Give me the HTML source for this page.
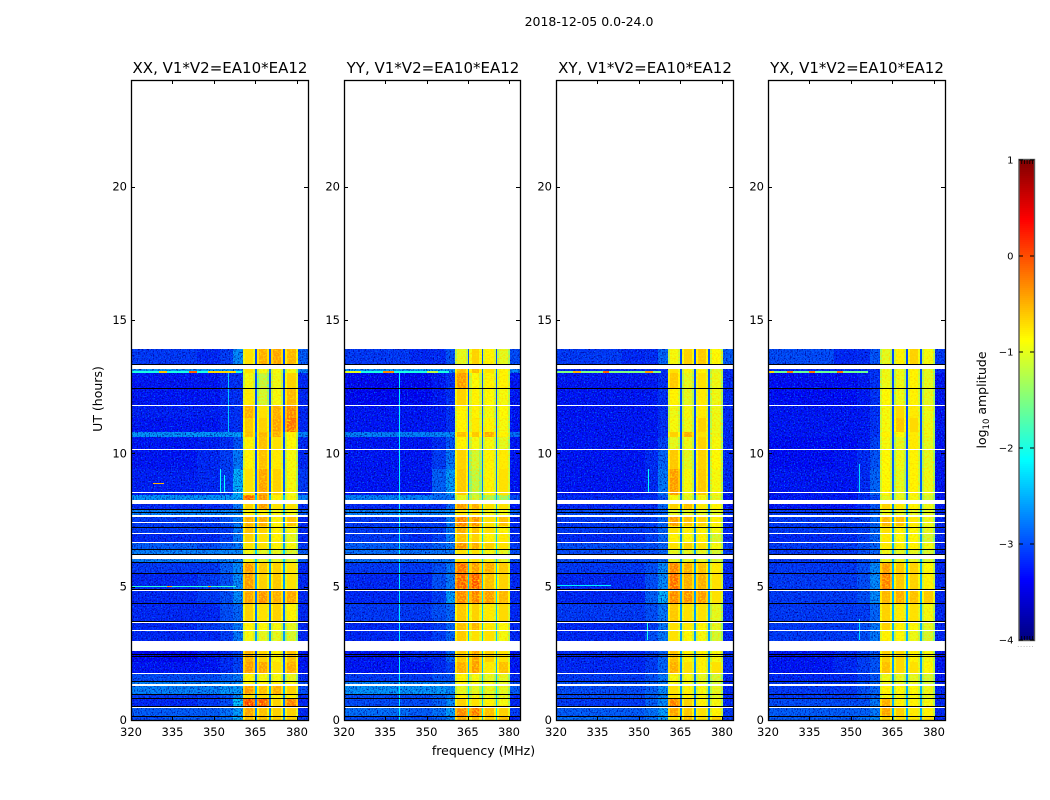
<!DOCTYPE html>
<html lang="en">
<head>
<meta charset="utf-8">
<title>2018-12-05 0.0-24.0</title>
<style>
html,body{margin:0;padding:0;background:#fff;width:1050px;height:800px;overflow:hidden}
svg{display:block}
text{font-family:"DejaVu Sans","Liberation Sans",sans-serif;fill:#000}
</style>
</head>
<body>
<svg id="figure" width="1050" height="800" viewBox="0 0 1050 800" xmlns="http://www.w3.org/2000/svg">
<defs>
<filter id="speckle-dark" x="0" y="0" width="1" height="1" color-interpolation-filters="sRGB">
<feTurbulence type="fractalNoise" baseFrequency="0.75 0.65" numOctaves="1" seed="4"/>
<feColorMatrix type="matrix" values="0 0 0 0 0  0 0 0 0 0  0 0 0 0 0.55  3.2 0 0 0 -1.5"/>
</filter>
<filter id="speckle-light" x="0" y="0" width="1" height="1" color-interpolation-filters="sRGB">
<feTurbulence type="fractalNoise" baseFrequency="0.7 0.8" numOctaves="1" seed="11"/>
<feColorMatrix type="matrix" values="0 0 0 0 0  0 0 0 0 0.5  0 0 0 0 1  0 3.2 0 0 -1.7"/>
</filter>
<filter id="speckle-band" x="0" y="0" width="1" height="1" color-interpolation-filters="sRGB">
<feTurbulence type="fractalNoise" baseFrequency="0.55 0.6" numOctaves="1" seed="7"/>
<feColorMatrix type="matrix" values="0 0 0 0 1  0 0 0 0 0.86  0 0 0 0 0  3 0 0 0 -1.3"/>
</filter>
</defs>
<text x="589" y="26" font-size="12.5" text-anchor="middle">2018-12-05 0.0-24.0</text>
<g id="panels"></g>
<text transform="translate(102,399) rotate(-90)" font-size="12.5" text-anchor="middle">UT (hours)</text>
<text x="483.5" y="755" font-size="12.5" text-anchor="middle">frequency (MHz)</text>
<g id="colorbar"></g>
<text transform="translate(986,400) rotate(-90)" font-size="12.5" text-anchor="middle">log<tspan font-size="8.5" dy="3">10</tspan><tspan dy="-3"> amplitude</tspan></text>
</svg>
<script>
// Axis data
const xTicks = [320, 335, 350, 365, 380];
const yTicks = [0, 5, 10, 15, 20];
const colorbarTicks = [1, 0, -1, -2, -3, -4];
const panelTitles = ['XX, V1*V2=EA10*EA12', 'YY, V1*V2=EA10*EA12', 'XY, V1*V2=EA10*EA12', 'YX, V1*V2=EA10*EA12'];

// Heatmap bins: frequency edges (MHz) and time edges (hours)
const freqEdges = [320,332,344,352,357,360.4, 361.2,364.2,365, 365.6,366.4,369.2,370, 370.6,371.4,374.4,375.1, 375.7,376.5,379.6,380.4, 384];
const timeEdges = [0,.15,.5,.83,.98,1.3,1.46,1.75,2.17,2.96,3.36,3.7,4.37,4.87,5.5,5.9,6.4,6.66,7,7.26,7.62,7.9,8.1,8.42,9.4,10.13,10.62,10.8,11.33,11.8,12.45,13.02,13.16,13.92];
// Which value of a row each frequency bin reads, and its log-amplitude adjustment per bin
const binGroup = [0,1,2,3,4, 5,5,5, 10, 6,6,6, 10, 7,7,7, 10, 8,8,8, 9];
const binRolloff = [-.2,-.2,-.2,-.18,-.25, -.35,-.04,-.3, 0, -.35,-.04,-.35, 0, -.3,-.04,-.35, 0, -.35,-.04,-.45, -.2];

// log10 amplitude. Row = time bin (bottom up); columns:
// bg320, bg332, bg344, bg352, bg357, band1, band2, band3, band4, bg380, notch
const xxValues = [
[-2.8,-2.7,-2.7,-2.6,-2.2,-.5,-.5,-.6,-.6,-2.9,-2.6],
[-2.7,-2.7,-2.7,-2.6,-2.3,-.35,-.5,-.6,-.6,-3,-2.7],
[-3,-3,-2.9,-2.8,-2.1,.2,.05,-.6,-.15,-3,-2.8],
[-2.9,-2.9,-2.9,-2.8,-2.4,-.7,-.7,-.8,-.8,-3,-2.7],
[-2.5,-2.5,-2.5,-2.4,-2.3,-.3,-.5,-.4,-.6,-2.8,-2.5],
[-2.5,-2.5,-2.5,-2.5,-2.4,-.8,-.8,-.8,-.9,-2.8,-2.6],
[-2.8,-2.8,-2.8,-2.7,-2.5,-.8,-.9,-.9,-1,-3,-2.8],
[-3.1,-3.1,-3.1,-3,-2.8,-.3,-.35,-.7,-.4,-3.1,-2.9],
[-3.2,-3.2,-3.1,-3,-2.8,-.4,-.6,-.8,-.5,-3.1,-3],
[-3,-3,-3,-2.9,-2.5,-.9,-1,-1,-1.1,-3,-2.6],
[-3,-3,-2.9,-2.8,-2.5,-.8,-.85,-.9,-1,-3,-2.7],
[-3,-3,-3,-2.8,-2.6,-.6,-.7,-.6,-.8,-3,-2.8],
[-3,-3,-2.9,-2.8,-2.4,-.35,-.25,-.4,-.35,-3,-2.8],
[-3,-3,-2.9,-2.8,-2.4,-.3,-.6,-.55,-.7,-3,-2.6],
[-2.9,-2.9,-2.9,-2.7,-2.4,-.3,-.55,-.6,-.7,-3,-2.6],
[-2.5,-2.5,-2.5,-2.5,-2.4,-.9,-1,-1,-1.1,-2.7,-2.3],
[-2.7,-2.7,-2.8,-2.7,-2.5,-.7,-.7,-.8,-.9,-2.9,-2.6],
[-3,-3,-3,-2.9,-2.5,-.6,-.7,-.8,-1,-3,-2.7],
[-2.9,-2.9,-2.9,-2.9,-2.5,-.5,-.6,-.8,-.9,-3,-2.7],
[-2.9,-2.9,-2.9,-2.8,-2.5,-.4,-.4,-.8,-.5,-3,-2.7],
[-2.5,-2.5,-2.5,-2.5,-2.4,-.8,-.8,-.9,-.9,-2.7,-2.4],
[-3,-3,-3,-2.9,-2.5,-.6,-.3,-.7,-.7,-3,-2.8],
[-2.4,-2.4,-2.4,-2.4,-2.2,0,-.25,-.8,-.9,-2.5,-2.4],
[-3.05,-3.05,-3,-2.9,-2.2,-.7,-.35,-.6,-.9,-2.9,-2.9],
[-3.1,-3.1,-3,-2.9,-2.5,-.8,-.5,-.75,-.9,-3,-3],
[-3.1,-3.1,-3.05,-3,-2.7,-.8,-.5,-.7,-.85,-3,-3],
[-2.4,-2.4,-2.4,-2.4,-2.3,-.5,-.45,-.4,-.8,-2.5,-2.8],
[-3.1,-3.1,-3.1,-3,-2.9,-.55,-.6,-.35,-.1,-3,-3],
[-3.05,-3.05,-3.05,-3,-2.9,-.4,-.7,-.4,-.2,-3,-3],
[-3.1,-3.1,-3.1,-3,-2.9,-.75,-1.1,-.9,-.45,-3,-3],
[-3.1,-3.1,-3.1,-3,-2.9,-.9,-1.2,-.95,-.6,-3,-3],
[-2.4,-2.4,-2.4,-2.4,-2.4,-.7,-.9,-.9,-.9,-2.5,-2.8],
[-2.9,-2.9,-3,-2.9,-2.4,-.7,-.4,-.35,-.45,-2.7,-3]
];
const yyValues = [
[-2.8,-2.8,-2.8,-2.7,-2.4,-.4,-.5,-.6,-.5,-3,-2.4],
[-2.6,-2.6,-2.7,-2.6,-2.3,-.2,-.1,-.5,-.6,-2.9,-2.2],
[-2.8,-2.8,-2.8,-2.7,-2.4,-.6,-.7,-.8,-.9,-3,-2.4],
[-2.8,-2.8,-2.8,-2.7,-2.5,-.8,-.9,-.9,-1,-3,-2.4],
[-2.4,-2.4,-2.4,-2.4,-2.4,-1,-1,-1,-1,-2.7,-2.2],
[-2.5,-2.5,-2.5,-2.5,-2.5,-.8,-.9,-.9,-1,-2.8,-2.3],
[-2.9,-2.9,-2.9,-2.8,-2.7,-.8,-.9,-1,-1,-3,-2.4],
[-3.1,-3.1,-3.1,-3,-2.8,-.4,-.3,-.75,-.5,-3.1,-2.5],
[-3.1,-3.1,-3,-3,-2.6,-.55,-.35,-.6,-.7,-3.1,-2.5],
[-3,-3,-3,-2.9,-2.6,-.55,-.7,-.7,-.9,-3,-2.4],
[-3,-3,-3,-2.9,-2.6,-.5,-.45,-.75,-.85,-3,-2.4],
[-2.9,-2.9,-2.9,-2.8,-2.6,-.55,-.6,-.75,-.65,-3,-2.4],
[-3,-3,-3,-2.9,-2.3,-.2,-.15,-.3,-.45,-3,-2.3],
[-3,-3,-3,-2.8,-2.5,0,.05,-.5,-.6,-3,-2.4],
[-2.9,-2.9,-2.9,-2.8,-2.5,-.05,-.3,-.4,-.55,-3,-2.4],
[-2.6,-2.6,-2.6,-2.6,-2.5,-.7,-.7,-.9,-1,-2.8,-2.3],
[-2.7,-2.7,-2.8,-2.7,-2.5,-.25,-.4,-.6,-.7,-2.9,-2.3],
[-2.9,-2.9,-3,-2.9,-2.5,-.5,-.6,-.8,-.75,-3,-2.4],
[-2.9,-2.9,-2.9,-2.9,-2.5,-.4,-.5,-.7,-.8,-3,-2.4],
[-2.9,-2.9,-2.9,-2.9,-2.5,-.15,-.25,-.7,-.5,-3,-2.4],
[-2.5,-2.5,-2.5,-2.5,-2.4,-.7,-.7,-.9,-.9,-2.7,-2.4],
[-3,-3,-3,-3,-2.6,-.3,-.4,-.7,-.7,-3.1,-2.6],
[-2.5,-2.5,-2.5,-2.6,-2.5,-1,-1.1,-1.3,-1.4,-2.8,-2.5],
[-3.1,-3.1,-3.1,-2.7,-2.3,-.55,-1.2,-.8,-.7,-3.1,-2.8],
[-3.1,-3.1,-3.1,-2.9,-2.5,-.6,-1.1,-.8,-.75,-3.1,-2.8],
[-3.1,-3.1,-3.1,-3,-2.7,-.8,-.9,-.9,-1,-3.1,-2.9],
[-2.5,-2.5,-2.5,-2.5,-2.4,-.5,-.55,-.4,-.8,-2.6,-2.9],
[-3.1,-3.1,-3.1,-3.1,-2.9,-.8,-.75,-.8,-.9,-3.1,-3],
[-3.1,-3.1,-3.1,-3.1,-2.9,-.8,-.8,-.9,-.85,-3.1,-3],
[-3.2,-3.2,-3.2,-3.1,-2.9,-.6,-.8,-.85,-.9,-3.1,-3],
[-3.2,-3.2,-3.2,-3.1,-2.9,-.3,-.85,-.8,-.8,-3.1,-3],
[-2.4,-2.4,-2.4,-2.4,-2.4,-.5,-.5,-.7,-.8,-2.5,-2.8],
[-2.9,-2.9,-3,-3,-2.7,-1,-.6,-.8,-1,-2.8,-3]
];
const xyValues = [
[-2.6,-2.6,-2.7,-2.6,-2.3,-.7,-.5,-.7,-.6,-2.9,-2.8],
[-2.7,-2.7,-2.7,-2.6,-2.3,-.35,-.55,-.7,-.8,-2.9,-2.7],
[-2.9,-2.9,-2.9,-2.7,-2.4,-.15,-.6,-.8,-.9,-3,-2.8],
[-2.8,-2.8,-2.8,-2.7,-2.4,-.7,-.8,-.9,-1,-3,-2.8],
[-2.8,-2.8,-2.8,-2.7,-2.4,-.7,-.8,-.9,-1,-3,-2.6],
[-2.8,-2.8,-2.8,-2.7,-2.5,-.9,-.9,-1,-1.1,-3,-2.7],
[-2.9,-2.9,-2.9,-2.8,-2.5,-.9,-.9,-1,-1.1,-3,-2.8],
[-3,-3,-3,-2.9,-2.6,-.4,-.7,-.8,-.7,-3,-2.7],
[-3,-3,-3,-2.9,-2.6,-.5,-.8,-.8,-.9,-3,-2.6],
[-3,-3,-3,-2.8,-2.5,-.7,-.85,-.9,-1.1,-3,-2.6],
[-3,-3,-3,-2.9,-2.5,-.7,-.75,-.85,-1,-3,-2.6],
[-2.9,-2.9,-2.9,-2.8,-2.5,-.55,-.7,-.7,-1,-3,-2.6],
[-3,-3,-3,-2.7,-2.2,-.2,-.25,-.3,-.7,-3,-2.6],
[-3,-3,-3,-2.8,-2.4,-.05,-.4,-.4,-.7,-3,-2.6],
[-2.9,-2.9,-2.9,-2.8,-2.4,-.15,-.4,-.5,-.75,-3,-2.6],
[-2.8,-2.8,-2.8,-2.8,-2.6,-1,-1,-1,-1.1,-2.9,-2.6],
[-2.8,-2.8,-2.8,-2.8,-2.6,-.7,-.6,-.7,-.9,-2.9,-2.6],
[-3,-3,-3,-2.9,-2.6,-.8,-.85,-.8,-1.1,-3,-2.7],
[-2.9,-2.9,-2.9,-2.9,-2.6,-.7,-.8,-.8,-.9,-3,-2.7],
[-2.9,-2.9,-2.9,-2.9,-2.6,-.3,-.5,-.6,-.8,-3,-2.7],
[-2.8,-2.8,-2.8,-2.8,-2.6,-1,-1,-1,-1,-2.9,-2.7],
[-3,-3,-3,-3,-2.6,-.6,-.5,-.75,-.8,-3.1,-2.8],
[-3,-3,-3,-3,-2.7,-.9,-1,-.9,-1,-3.1,-2.8],
[-3.1,-3.1,-3.1,-3,-2.5,-.3,-.9,-.55,-.9,-3,-3],
[-3.1,-3.1,-3.1,-3,-2.6,-.55,-1,-.6,-.85,-3,-3],
[-3.1,-3.1,-3.1,-3.1,-2.8,-1,-.95,-.6,-.9,-3,-3],
[-3.1,-3.1,-3.1,-3.1,-2.9,-.6,-.4,-.7,-.95,-3,-3],
[-3.1,-3.1,-3.1,-3.1,-2.9,-.9,-.95,-.6,-.95,-3,-3],
[-3.1,-3.1,-3.1,-3.1,-2.9,-.95,-.9,-.75,-.95,-3,-3],
[-3.1,-3.1,-3.1,-3.1,-2.9,-.8,-1,-.75,-.95,-3,-3],
[-3.1,-3.1,-3.1,-3.1,-2.9,-.55,-1,-.7,-.95,-3,-3],
[-3,-3,-3,-3,-2.9,-.7,-.9,-.8,-1,-3,-3],
[-2.9,-2.9,-3,-3,-2.6,-.9,-.6,-.55,-.85,-2.7,-3]
];
const yxValues = [
[-2.7,-2.7,-2.7,-2.6,-2.4,-.6,-.7,-.75,-.7,-3,-2.6],
[-2.7,-2.7,-2.7,-2.7,-2.5,-.35,-.6,-.75,-.8,-3,-2.5],
[-2.8,-2.8,-2.8,-2.8,-2.5,-.4,-.8,-.8,-.9,-3,-2.5],
[-2.9,-2.9,-2.9,-2.8,-2.6,-.9,-.9,-.9,-1,-3,-2.5],
[-2.9,-2.9,-2.9,-2.8,-2.6,-.8,-.85,-.85,-.95,-3,-2.5],
[-2.9,-2.9,-2.9,-2.8,-2.6,-.95,-1,-1,-1.1,-3,-2.5],
[-3,-3,-3,-2.9,-2.7,-.95,-1,-1,-1.1,-3.1,-2.6],
[-3.1,-3.1,-3,-2.9,-2.7,-.5,-.65,-.7,-.85,-3.1,-2.6],
[-3.1,-3.1,-3,-2.9,-2.7,-.6,-.65,-.8,-.9,-3.1,-2.6],
[-2.9,-2.9,-2.9,-2.8,-2.5,-.8,-.85,-.95,-1.1,-3,-2.5],
[-2.9,-2.9,-2.9,-2.8,-2.5,-.6,-.8,-.85,-1,-3,-2.5],
[-2.9,-2.9,-2.9,-2.9,-2.6,-.6,-.75,-.7,-.9,-3,-2.5],
[-2.9,-2.9,-2.9,-2.8,-2.4,-.45,-.4,-.5,-.55,-3,-2.5],
[-2.9,-2.9,-2.9,-2.8,-2.4,-.15,-.55,-.6,-.8,-3,-2.5],
[-2.9,-2.9,-2.9,-2.8,-2.4,-.3,-.55,-.6,-.85,-3,-2.5],
[-2.9,-2.9,-2.9,-2.8,-2.6,-.95,-1,-1,-1.1,-3,-2.5],
[-2.9,-2.9,-2.9,-2.8,-2.6,-.75,-.8,-.8,-.9,-3,-2.5],
[-3,-3,-3,-2.9,-2.6,-.75,-.85,-.85,-1.1,-3,-2.6],
[-2.9,-2.9,-2.9,-2.9,-2.6,-.7,-.8,-.85,-1,-3,-2.6],
[-2.9,-2.9,-2.9,-2.9,-2.6,-.45,-.5,-.75,-.95,-3,-2.6],
[-2.9,-2.9,-2.9,-2.9,-2.6,-.95,-1,-1,-1,-3,-2.6],
[-3.1,-3.1,-3.1,-3,-2.7,-.6,-.75,-.8,-.95,-3.1,-2.7],
[-3.1,-3.1,-3.1,-3,-2.8,-1,-1,-.9,-1.1,-3.1,-2.8],
[-3.1,-3.1,-3.1,-3,-2.6,-.85,-1,-.8,-.95,-3.1,-2.9],
[-3.15,-3.15,-3.1,-3,-2.7,-.85,-.95,-.8,-1,-3.1,-2.9],
[-3.15,-3.15,-3.15,-3.1,-2.8,-.9,-1,-.75,-1,-3.1,-3],
[-3.1,-3.1,-3.1,-3.1,-2.9,-.8,-.85,-.75,-.95,-3.1,-3],
[-3.1,-3.1,-3.1,-3.1,-2.9,-.9,-.55,-.65,-.95,-3.1,-3],
[-3.1,-3.1,-3.1,-3.1,-2.9,-.9,-.65,-.75,-.95,-3.1,-3],
[-3.15,-3.15,-3.15,-3.1,-2.9,-.85,-.95,-.8,-1,-3.1,-3],
[-3.15,-3.15,-3.15,-3.1,-2.9,-.95,-.95,-.8,-1,-3.1,-3],
[-3,-3,-3,-3,-2.9,-.95,-.95,-.8,-1,-3,-3],
[-2.8,-2.8,-3,-3,-2.7,-1,-.8,-.6,-.9,-2.9,-3]
];

// Narrow features: [freq start, freq end, time start, time end, log10 amplitude]
const xxSpurs = [[320,360,13.0,13.07,-2.0],[330,333,13.0,13.07,-.6],[341,344,13.0,13.07,-.1],[348,351,13.0,13.07,-.7],[351,358,13.0,13.07,-.7],[355,355.4,10.8,13.0,-2.4],[328,332,8.86,8.9,-.5],[352,352.3,8.55,9.4,-2.1],[353.6,353.9,8.55,9.2,-2.1],[320,358,5,5.04,-1.9],[333,335,5,5.04,-.4],[348,349,5,5.04,-.4],[333,338,5.9,5.94,-1]];
const yySpurs = [[340,340.4,0,13.1,-2.2],[320,358,13.0,13.07,-2],[320,326,13.0,13.07,-1],[334,338,13.0,13.07,-.3],[350,354,13.0,13.07,-1.2]];
const xySpurs = [[320,358,13.0,13.07,-1.5],[326,329,13.0,13.07,-.5],[337,339,13.0,13.07,-.1],[352,355,13.0,13.07,-.4],[353.3,353.7,8.55,9.4,-2.1],[320,340,5.02,5.06,-2.2],[353,353.3,3,3.7,-2]];
const yxSpurs = [[320,356,13.0,13.07,-1.6],[320,322,13.0,13.07,-.7],[327,329,13.0,13.07,-.2],[335,337,13.0,13.07,-.2],[345,347,13.0,13.07,-.2],[353,353.4,8.55,9.6,-2.3],[353,353.4,3,3.8,-2.3]];

// Blank (white) and zero-amplitude (black) integrations, hours
const blankIntervals = [[.46,.5],[1.28,1.35],[1.73,1.77],[2.59,2.96],[3.35,3.38],[3.66,3.69],[4.36,4.39],[4.85,4.88],[6.05,6.19],[6.66,6.69],[6.99,7.02],[7.42,7.44],[7.63,7.7],[8.11,8.25],[8.53,8.56],[10.14,10.17],[11.79,11.82],[13.16,13.33]];
const blackLines = [.15,.52,.83,.98,1.47,2.39,2.47,3.71,4.37,4.91,5.52,5.92,6.24,6.4,7.25,7.8,7.9,12.46,13.36];
const dataEndHour = 13.92;

const panelValues = [xxValues, yyValues, xyValues, yxValues];
const panelSpurs = [xxSpurs, yySpurs, xySpurs, yxSpurs];

const NS = 'http://www.w3.org/2000/svg';
const panelLefts = [131, 344, 556, 768];
const panelWidths = [177, 176, 177, 177];
const axTop = 80, axBottom = 720;
const freqMin = 320, freqMax = 384, hourMax = 24;
const vMin = -4, vMax = 1;

function yScale(t) { return axBottom - t / hourMax * (axBottom - axTop); }
function clamp(a) { return Math.max(0, Math.min(1, a)); }
function jet(v) {
  const t = clamp((v - vMin) / (vMax - vMin));
  const r = clamp(1.5 - Math.abs(4 * t - 3));
  const g = clamp(1.5 - Math.abs(4 * t - 2));
  const b = clamp(1.5 - Math.abs(4 * t - 1));
  return 'rgb(' + Math.round(r * 255) + ',' + Math.round(g * 255) + ',' + Math.round(b * 255) + ')';
}
function mk(tag, parent, attrs) {
  const el = document.createElementNS(NS, tag);
  for (const k in attrs) el.setAttribute(k, attrs[k]);
  parent.appendChild(el);
  return el;
}
function box(parent, x0, x1, y0, y1, fill) {
  const x = Math.round(x0), y = Math.round(y0);
  return mk('rect', parent, {x: x, y: y, width: Math.max(1, Math.round(x1) - x), height: Math.max(1, Math.round(y1) - y), fill: fill, 'shape-rendering': 'crispEdges'});
}

const panelsRoot = document.getElementById('panels');
panelTitles.forEach(function (title, p) {
  const left = panelLefts[p];
  const panelWidth = panelWidths[p];
  function xScale(f) { return left + (f - freqMin) / (freqMax - freqMin) * panelWidth; }
  const g = mk('g', panelsRoot, {});
  
  

  const values = panelValues[p];
  values.forEach(function (row, r) {
    binGroup.forEach(function (group, c) {
      const cell = box(g, xScale(freqEdges[c]), xScale(freqEdges[c + 1]), yScale(timeEdges[r + 1]), yScale(timeEdges[r]), jet(row[group] + binRolloff[c]));
      
      
    });
  });

  // Fine-grain channel texture (visual grain only, not data)
  function grain(f0, f1, filterId) {
    const x0 = Math.round(xScale(f0)), x1 = Math.round(xScale(f1));
    const y0 = Math.round(yScale(dataEndHour)), y1 = Math.round(yScale(0));
    const tex = mk('rect', g, {x: x0, y: y0, width: x1 - x0, height: y1 - y0, filter: 'url(#' + filterId + ')'});
    
    
  }
  [[freqMin, 360.4], [380.4, freqMax]].forEach(function (range) {
    grain(range[0], range[1], 'speckle-dark');
    grain(range[0], range[1], 'speckle-light');
  });
  [[360.4, 365], [365.6, 370], [370.6, 375.1], [375.7, 380.4]].forEach(function (range) {
    grain(range[0], range[1], 'speckle-band');
  });

  panelSpurs[p].forEach(function (s) {
    const spur = box(g, xScale(s[0]), xScale(s[1]), yScale(s[3]), yScale(s[2]), jet(s[4]));
    
    
  });
  blankIntervals.forEach(function (b) {
    const gap = box(g, xScale(freqMin), xScale(freqMax), yScale(b[1]), yScale(b[0]), '#fff');
    
    
  });
  blackLines.forEach(function (t) {
    const y = Math.round(yScale(t));
    const line = box(g, xScale(freqMin), xScale(freqMax), y, y + 1, '#000');
    
    
  });

  const frame = mk('rect', g, {x: left + .5, y: axTop + .5, width: panelWidth, height: axBottom - axTop, fill: 'none', stroke: '#000', 'stroke-width': 1.3});
  
  

  xTicks.forEach(function (f) {
    const x = Math.round(xScale(f)) + .5;
    const t1 = mk('line', g, {x1: x, x2: x, y1: axBottom, y2: axBottom - 4, stroke: '#000', 'stroke-width': 1});
    
    
    const t2 = mk('line', g, {x1: x, x2: x, y1: axTop, y2: axTop + 4, stroke: '#000', 'stroke-width': 1});
    
    
    const lab = mk('text', g, {x: xScale(f), y: 736, 'font-size': 11.5, 'text-anchor': 'middle'});
    lab.textContent = String(f);
    
    
  });
  yTicks.forEach(function (t) {
    const y = Math.round(yScale(t)) + .5;
    const t1 = mk('line', g, {x1: left, x2: left + 4, y1: y, y2: y, stroke: '#000', 'stroke-width': 1});
    
    
    const t2 = mk('line', g, {x1: left + panelWidth, x2: left + panelWidth - 4, y1: y, y2: y, stroke: '#000', 'stroke-width': 1});
    
    
    const lab = mk('text', g, {x: left - 4, y: yScale(t) + 4, 'font-size': 11.5, 'text-anchor': 'end'});
    lab.textContent = String(t);
    
    
  });

  const ttl = mk('text', g, {x: left + 89, y: 73, 'font-size': 15, 'text-anchor': 'middle'});
  ttl.textContent = title;
  
  
});

// Colorbar
const cbar = document.getElementById('colorbar');
const cbLeft = 1019, cbRight = 1034, cbTop = 160, cbBottom = 640;
function cbY(v) { return cbBottom - (v - vMin) / (vMax - vMin) * (cbBottom - cbTop); }
for (let py = cbTop; py < cbBottom; py += 2) {
  const v = vMax - (py + 1 - cbTop) / (cbBottom - cbTop) * (vMax - vMin);
  const swatch = mk('rect', cbar, {x: cbLeft, y: py, width: cbRight - cbLeft, height: 2, fill: jet(v), 'shape-rendering': 'crispEdges'});
  
  
}
const cbFrame = mk('rect', cbar, {x: cbLeft, y: cbTop - .5, width: cbRight - cbLeft + .5, height: cbBottom - cbTop + 1, fill: 'none', stroke: '#555', 'stroke-width': 1.4});


colorbarTicks.forEach(function (v) {
  const y = cbY(v);
  const tl = mk('line', cbar, {x1: cbLeft, x2: cbLeft + 4, y1: y, y2: y, stroke: '#000', 'stroke-width': 1});
  
  
  const tr = mk('line', cbar, {x1: cbRight, x2: cbRight - 4, y1: y, y2: y, stroke: '#000', 'stroke-width': 1});
  
  
  const lab = mk('text', cbar, {x: 1013.5, y: y + 3.5, 'font-size': 10, 'text-anchor': 'end'});
  lab.textContent = String(v).replace('-', '\u2212');
  
  
});
[0.18, 0.36, 0.54, 0.72, 0.9].forEach(function (frac) {
  const x = cbLeft + frac * (cbRight - cbLeft);
  const top = mk('line', cbar, {x1: x, x2: x, y1: cbTop, y2: cbTop + 4, stroke: '#000', 'stroke-width': .8});
  
  
  const bot = mk('line', cbar, {x1: x, x2: x, y1: cbBottom, y2: cbBottom - 4, stroke: '#000', 'stroke-width': .8});
  
  
});
const dots = mk('text', cbar, {x: 1026, y: 647, 'font-size': 6, 'text-anchor': 'middle', style: 'fill:#777;letter-spacing:1px'});
dots.textContent = '......';


</script>
</body>
</html>
